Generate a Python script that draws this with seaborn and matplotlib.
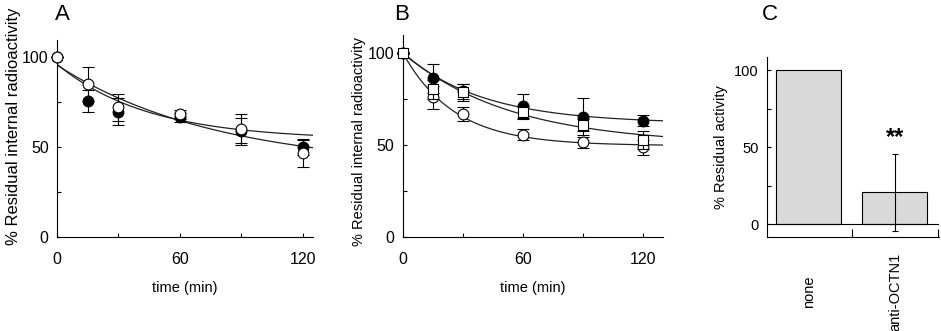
import numpy as np
import pandas as pd
import matplotlib
matplotlib.use('Agg')
import matplotlib.pyplot as plt
import seaborn as sns

sns.set_style('ticks')
plt.rcParams['font.family'] = ['Liberation Sans', 'DejaVu Sans']
plt.rcParams['font.size'] = 10.5
plt.rcParams['text.color'] = 'black'
plt.rcParams['axes.labelcolor'] = 'black'
plt.rcParams['axes.edgecolor'] = 'black'
plt.rcParams['xtick.color'] = 'black'
plt.rcParams['ytick.color'] = 'black'

# Panel A data
time_min = [0, 15, 30, 60, 90, 120]
a_filled = [100, 75.7, 69.6, 66.5, 59.0, 49.8]
a_filled_err = [0, 6.0, 7.4, 2.5, 7.0, 4.1]
a_open = [100, 85.0, 72.0, 68.3, 59.8, 46.8]
a_open_err = [0, 9.6, 7.5, 2.5, 8.7, 7.7]
# exponential fits: plateau, amplitude, rate
a_fit_plateau = [54.0, 38.0]
a_fit_amp = [42.0, 57.5]
a_fit_rate = [0.0225, 0.0128]

# Panel B data
b_filled = [100, 86.1, 79.0, 71.0, 65.2, 62.9]
b_filled_err = [0, 8.0, 4.0, 6.4, 10.0, 3.0]
b_square = [100, 80.1, 78.5, 67.6, 60.7, 52.5]
b_square_err = [0, 5.0, 4.7, 3.6, 3.1, 5.0]
b_open = [100, 75.7, 66.7, 55.4, 51.3, 48.6]
b_open_err = [0, 6.3, 4.0, 3.0, 3.0, 4.2]
b_fit_plateau = [61.5, 50.0, 49.5]
b_fit_amp = [38.5, 50.0, 50.5]
b_fit_rate = [0.025, 0.0186, 0.039]

# Panel C data
c_groups = ['none', 'anti-OCTN1']
c_values = [100, 21]
c_err = [0, 25]

fig = plt.figure(figsize=(9.41, 3.31), dpi=100)
axA = fig.add_axes([0.0606, 0.284, 0.272, 0.595])
axB = fig.add_axes([0.428, 0.285, 0.2766, 0.609])
axC = fig.add_axes([0.8148, 0.285, 0.1834, 0.544])

lc = '#222222'


def draw_fits(ax, plateaus, amps, rates, tmax):
    t = np.linspace(0, tmax, 200)
    for p, a, k in zip(plateaus, amps, rates):
        sns.lineplot(x=t, y=p + a * np.exp(-k * t), ax=ax, color=lc, lw=0.9, zorder=2)


def draw_points(ax, y, err, marker, face, z):
    ax.errorbar(time_min, y, yerr=err, fmt='none', ecolor='black', elinewidth=0.8,
                capsize=4.5, capthick=0.8, zorder=z, clip_on=False)
    sns.scatterplot(x=time_min, y=y, ax=ax, marker=marker, s=60, color=face,
                    edgecolor='black', linewidth=0.8, zorder=z + 0.5, clip_on=False)


def style_time_axis(ax, xmax, ymax, ylabel_size, ylabel_y):
    ax.set_xlim(0, xmax)
    ax.set_ylim(0, ymax)
    ax.set_xticks([0, 60, 120])
    ax.set_xticks([30, 90], minor=True)
    ax.set_yticks([0, 50, 100])
    ax.set_yticks([25, 75], minor=True)
    ax.tick_params(which='both', direction='in', length=3, width=0.8, labelsize=11.5)
    ax.tick_params(axis='x', pad=11)
    ax.tick_params(axis='y', pad=6)
    ax.set_xlabel('time (min)', fontsize=10.5, labelpad=10)
    ax.set_ylabel('% Residual internal radioactivity', fontsize=ylabel_size, labelpad=3)
    ax.yaxis.set_label_coords(-0.14, ylabel_y)
    for s in ['left', 'bottom']:
        ax.spines[s].set_linewidth(0.8)
    sns.despine(ax=ax)


# A
draw_fits(axA, a_fit_plateau, a_fit_amp, a_fit_rate, 125)
draw_points(axA, a_filled, a_filled_err, 'o', 'black', 3)
draw_points(axA, a_open, a_open_err, 'o', 'white', 4)
style_time_axis(axA, 125, 109.4, 12, 0.56)

# B
draw_fits(axB, b_fit_plateau, b_fit_amp, b_fit_rate, 130)
draw_points(axB, b_filled, b_filled_err, 'o', 'black', 3)
draw_points(axB, b_open, b_open_err, 'o', 'white', 4)
draw_points(axB, b_square, b_square_err, 's', 'white', 5)
style_time_axis(axB, 130, 109.6, 10.5, 0.47)

# C
dfc = pd.DataFrame({'group': c_groups, 'value': c_values})
sns.barplot(data=dfc, x='group', y='value', ax=axC, color='#d9d9d9',
            edgecolor='black', linewidth=0.8, width=0.755, errorbar=None, zorder=2)
axC.errorbar([1], [c_values[1]], yerr=[c_err[1]], fmt='none', ecolor='black',
             elinewidth=0.8, capsize=2, capthick=0.8, zorder=4)
axC.text(1, c_values[1] + c_err[1] + 3, '**', ha='center', va='bottom', fontsize=17,
         fontweight='bold')
axC.axhline(0, color='black', lw=0.8, zorder=3)
axC.set_xlim(-0.49, 1.515)
axC.set_ylim(-8, 109)
axC.set_yticks([0, 50, 100])
axC.set_yticks([25, 75], minor=True)
axC.set_xticks([0, 1])
axC.set_xticklabels(c_groups, rotation=90, va='center', ha='center')
axC.set_xticks([0.5, 1.5], minor=True)
axC.tick_params(which='both', direction='in', length=3, width=0.8, labelsize=10.5)
axC.tick_params(axis='x', which='major', length=0, pad=40)
axC.tick_params(axis='x', which='minor', length=6)
axC.tick_params(axis='y', pad=6)
axC.set_xlabel('')
axC.set_ylabel('% Residual activity', fontsize=10.5, labelpad=4)
for s in ['left', 'bottom']:
    axC.spines[s].set_linewidth(0.8)
sns.despine(ax=axC)

fig.text(62 / 941, 1 - 15 / 331, 'A', fontsize=16, ha='center', va='center')
fig.text(402 / 941, 1 - 15 / 331, 'B', fontsize=16, ha='center', va='center')
fig.text(770 / 941, 1 - 15 / 331, 'C', fontsize=16, ha='center', va='center')

fig.savefig('out.png', dpi=100)
plt.close(fig)
